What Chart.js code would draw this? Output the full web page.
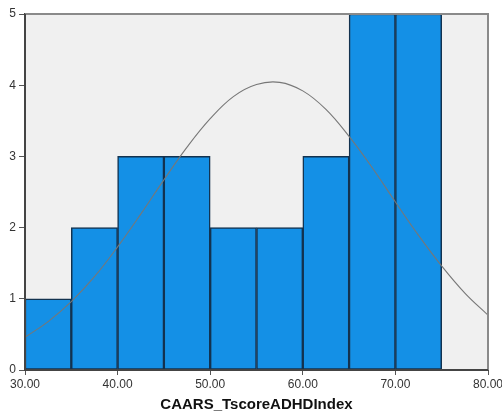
<!DOCTYPE html>
<html><head><meta charset="utf-8">
<script src="https://cdn.jsdelivr.net/npm/chart.js@4"></script>
<style>html,body{margin:0;padding:0;background:#fff}#wrap{width:502px;height:414px}</style>
</head><body><div id="wrap"><canvas id="c" width="502" height="414"></canvas></div>
<script>
const binCenters = [32.5, 37.5, 42.5, 47.5, 52.5, 57.5, 62.5, 67.5, 72.5];
const binCounts  = [1, 2, 3, 3, 2, 2, 3, 5, 5];
const curveX = [30,32.5,35,37.5,40,42.5,45,47.5,50,52.5,55,57.5,60,62.5,65,67.5,70,72.5,75,77.5,80];
const curveY = [0.46,0.68,0.96,1.31,1.73,2.19,2.67,3.13,3.53,3.84,4.01,4.04,3.92,3.66,3.28,2.84,2.36,1.89,1.46,1.08,0.77];
const xTicks = [30,40,50,60,70,80];
const yTicks = [0,1,2,3,4,5];
const xTitle = 'CAARS_TscoreADHDIndex';

const bgPlugin = {
  id:'bg',
  beforeDraw(chart){
    const {ctx, chartArea:a} = chart;
    ctx.save(); ctx.fillStyle='#f0f0f0';
    ctx.fillRect(a.left,a.top,a.right-a.left,a.bottom-a.top);
    ctx.restore();
  },
  afterDraw(chart){
    const {ctx, chartArea:a} = chart;
    ctx.save();
    ctx.strokeStyle='#8a8a8a'; ctx.lineWidth=2;
    ctx.beginPath(); ctx.moveTo(a.left,a.top); ctx.lineTo(a.right,a.top); ctx.lineTo(a.right,a.bottom); ctx.stroke();
    ctx.strokeStyle='#444'; ctx.lineWidth=2;
    ctx.beginPath(); ctx.moveTo(a.left,a.top); ctx.lineTo(a.left,a.bottom); ctx.lineTo(a.right,a.bottom); ctx.stroke();
    ctx.restore();
  }
};

new Chart(document.getElementById('c'), {
  data:{
    datasets:[
      {type:'line', data:curveX.map((x,i)=>({x, y:curveY[i]})), borderColor:'#777', borderWidth:1.1,
       pointRadius:0, tension:0.4, fill:false, order:0},
      {type:'bar', data:binCenters.map((x,i)=>({x, y:binCounts[i]})), backgroundColor:'#1490e6',
       borderColor:'#13324f', borderWidth:1.5, borderSkipped:false, barPercentage:1, categoryPercentage:1, grouped:false, order:1}
    ]
  },
  options:{
    responsive:false, animation:false,
    layout:{padding:{top:14,right:14,left:0,bottom:0}},
    plugins:{legend:{display:false}, tooltip:{enabled:false}},
    scales:{
      x:{type:'linear', min:30, max:80, offset:false,
         afterBuildTicks(s){ s.ticks = xTicks.map(v=>({value:v})); },
         afterFit(s){ s.height = 44; s.paddingRight = 0; s.paddingLeft = 0; },
         grid:{display:true, offset:false, drawOnChartArea:false, drawTicks:true, tickLength:5, color:'#555'},
         border:{display:true, color:'#444', width:2},
         ticks:{color:'#333', font:{family:'Arial, Liberation Sans', size:12}, padding:2, maxRotation:0,
                callback:v=>Number(v).toFixed(2)},
         title:{display:true, text:xTitle, color:'#111', font:{family:'Arial, Liberation Sans', size:15, weight:'bold'}, padding:{top:2,bottom:0}}
      },
      y:{min:0, max:5,
         afterBuildTicks(s){ s.ticks = yTicks.map(v=>({value:v})); },
         afterFit(s){ s.width = 25; },
         grid:{display:true, drawOnChartArea:false, drawTicks:true, tickLength:6, color:'#555'},
         border:{display:true, color:'#444', width:2},
         ticks:{color:'#333', font:{family:'Arial, Liberation Sans', size:12}, padding:3}
      }
    }
  },
  plugins:[bgPlugin]
});
</script></body></html>
